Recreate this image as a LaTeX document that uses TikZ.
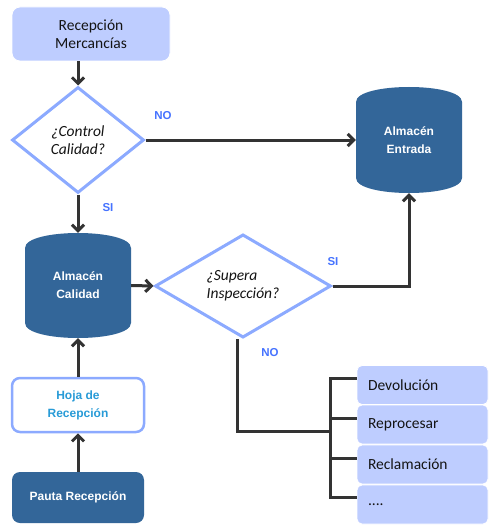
\documentclass[tikz,border=0pt]{standalone}
\usepackage{fontspec}
\setmainfont{Carlito}
\newfontfamily\arialf{Liberation Sans}
\usetikzlibrary{arrows.meta,shapes.geometric}
\definecolor{lightfill}{RGB}{190,205,255}
\definecolor{diamondc}{RGB}{140,170,255}
\definecolor{labelc}{RGB}{70,115,255}
\definecolor{darkfill}{RGB}{51,102,153}
\definecolor{hojatext}{RGB}{40,155,215}
\definecolor{arrowc}{RGB}{51,51,51}
\definecolor{textc}{RGB}{20,20,20}
\begin{document}
\begin{tikzpicture}[x=1pt,y=-1pt,
  conn/.style={draw=arrowc, line width=3pt},
  arr/.style={conn, -{Straight Barb[length=6pt,width=12pt]}},
  lbl/.style={font=\arialf\bfseries\fontsize{11.5}{13}\selectfont, text=labelc},
  lightbox/.style={fill=lightfill, draw=white, line width=0.8pt, text=textc,
    font=\fontsize{15.5}{18}\selectfont, inner sep=0pt},
  dia/.style={diamond, draw=diamondc, line width=3pt, fill=white, inner sep=0pt,
    text=textc, font=\itshape\fontsize{15.5}{18}\selectfont},
  cylnode/.style={inner sep=0pt, text=white, align=center,
    font=\arialf\bfseries\fontsize{12}{18}\selectfont},
  darkbox/.style={fill=darkfill, rounded corners=8pt, inner sep=0pt, text=white,
    font=\arialf\bfseries\fontsize{12}{18}\selectfont},
  hojabox/.style={fill=white, draw=diamondc, line width=2.5pt, rounded corners=8pt,
    inner sep=0pt, text=hojatext, align=center,
    font=\arialf\bfseries\fontsize{12}{18}\selectfont},
  optbox/.style={lightbox, rounded corners=5pt, minimum width=131pt, minimum height=39pt,
    text width=109pt, inner xsep=11pt, align=left}
]
\useasboundingbox (0,0) rectangle (494,532);
\fill[white] (0,0) rectangle (494,532);

% cylinders
\fill[darkfill] (356,102) .. controls (356,82) and (462,82) .. (462,102)
  -- (462,178) .. controls (462,198) and (356,198) .. (356,178) -- cycle;
\fill[darkfill] (25,248) .. controls (25,228) and (131,228) .. (131,248)
  -- (131,323) .. controls (131,343) and (25,343) .. (25,323) -- cycle;

% nodes
\node[lightbox, rounded corners=8pt, minimum width=158pt, minimum height=54pt, align=center]
  (rm) at (91,34) {Recepción\\Mercancías};
\node[dia, minimum width=132pt, minimum height=106pt, align=center]
  (d1) at (78,140) {¿Control\\Calidad?};
\node[cylnode, minimum width=106pt, minimum height=106pt] (ae) at (409,140) {Almacén\\Entrada};
\node[cylnode, minimum width=106pt, minimum height=105pt] (ac) at (78,285.5) {Almacén\\Calidad};
\node[dia, minimum width=176pt, minimum height=80pt, align=left]
  (d2) at (243,286) {¿Supera\\Inspección?};
\node[hojabox, minimum width=132pt, minimum height=54pt] (hj) at (78,405) {Hoja de\\Recepción};
\node[darkbox, minimum width=132pt, minimum height=51pt] (pa) at (78,497.5) {Pauta Recepción};

\node[optbox] (b1) at (422.5,385) {Devolución};
\node[optbox] (b2) at (422.5,424.5) {Reprocesar};
\node[optbox] (b3) at (422.5,464.5) {Reclamación};
\node[optbox] (b4) at (422.5,504.5) {....};

% labels
\node[lbl] (no1) at (163,116) {NO};
\node[lbl] (si1) at (108,208) {SI};
\node[lbl] (si2) at (333,262) {SI};
\node[lbl] (no2) at (270,353) {NO};

% connectors
\draw[arr] (rm.south -| d1.north) -- (d1.north);
\draw[arr] (d1.east) -- (ae.west);
\draw[arr] (d1.south) -- (ac.north);
\draw[arr] (ac.east) -- (d2.west);
\draw[arr] (d2.east) -| (ae.south);
\draw[arr] (hj.north) -- (ac.south);
\draw[arr] (pa.north) -- (hj.south);

\coordinate (bj) at (330,431);
\coordinate (t1) at ([yshift=7pt]b1.west);
\coordinate (t2) at ([yshift=6pt]b2.west);
\coordinate (t3) at ([yshift=6pt]b3.west);
\coordinate (t4) at ([yshift=7pt]b4.west);
\draw[conn] ([xshift=-6pt]d2.south) |- (bj);
\draw[conn] (t1) -| (bj) |- (t4);
\draw[conn] (t2) -- (t2 -| bj);
\draw[conn] (t3) -- (t3 -| bj);
\end{tikzpicture}
\end{document}
